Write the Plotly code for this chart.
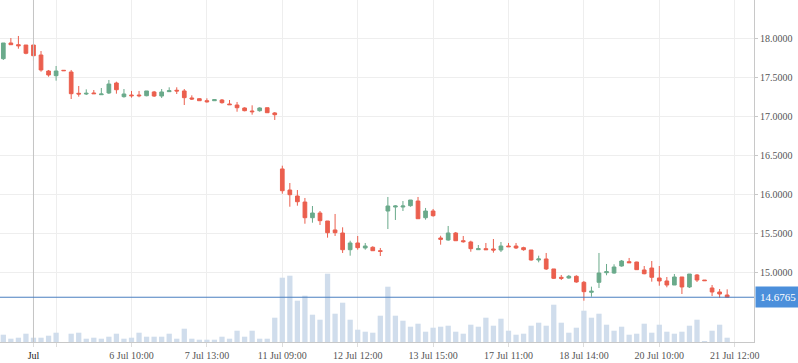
import plotly.graph_objects as go

opens = [17.735,17.936,17.914,17.910,17.910,17.782,17.577,17.517,17.586,17.564,
         17.291,17.282,17.295,17.273,17.295,17.423,17.248,17.269,17.269,17.260,
         17.308,17.256,17.312,17.330,17.321,17.231,17.222,17.196,17.196,17.205,
         17.154,17.141,17.103,17.064,17.068,17.106,17.039,16.321,16.051,15.974,
         15.897,15.696,15.756,15.654,15.539,15.500,15.286,15.372,15.308,15.317,
         15.273,15.782,15.833,15.833,15.850,15.910,15.696,15.782,15.436,15.410,
         15.500,15.401,15.385,15.286,15.299,15.295,15.282,15.333,15.333,15.312,
         15.282,15.154,15.167,15.039,14.932,14.923,14.945,14.868,14.740,14.868,
         14.991,14.987,15.077,15.132,15.128,15.026,15.051,14.923,14.885,14.833,
         14.936,14.808,14.962,14.897,14.795,14.744,14.705]

highs = [17.936,18.000,18.026,17.910,17.910,17.833,17.590,17.641,17.586,17.590,
         17.385,17.342,17.333,17.359,17.462,17.440,17.346,17.321,17.321,17.321,
         17.321,17.346,17.368,17.368,17.346,17.265,17.227,17.227,17.218,17.218,
         17.205,17.180,17.112,17.137,17.112,17.106,17.051,16.363,16.141,16.051,
         15.949,15.846,15.782,15.654,15.744,15.573,15.401,15.462,15.372,15.330,
         15.308,15.962,15.855,15.910,15.923,15.962,15.821,15.808,15.465,15.590,
         15.513,15.462,15.401,15.346,15.372,15.423,15.385,15.372,15.372,15.324,
         15.282,15.209,15.244,15.039,14.962,14.962,14.958,14.885,14.812,15.244,
         15.103,15.099,15.154,15.180,15.132,15.077,15.141,15.077,14.936,14.974,
         14.936,14.974,14.974,14.897,14.833,14.782,14.778]

lows = [17.718,17.914,17.863,17.791,17.705,17.568,17.504,17.453,17.581,17.218,
        17.248,17.269,17.286,17.273,17.282,17.286,17.235,17.235,17.240,17.253,
        17.244,17.231,17.308,17.282,17.141,17.205,17.196,17.171,17.196,17.158,
        17.145,17.055,17.060,17.017,17.055,17.042,16.949,16.004,15.837,15.850,
        15.619,15.632,15.603,15.440,15.462,15.244,15.209,15.286,15.286,15.273,
        15.205,15.551,15.667,15.782,15.837,15.683,15.671,15.709,15.350,15.401,
        15.401,15.376,15.260,15.286,15.286,15.248,15.256,15.324,15.295,15.273,
        15.145,15.124,15.026,14.910,14.897,14.914,14.863,14.632,14.683,14.795,
        14.958,14.978,15.068,15.119,15.026,14.971,14.876,14.824,14.804,14.833,
        14.718,14.795,14.872,14.889,14.692,14.667,14.667]

closes = [17.936,17.914,17.901,17.804,17.773,17.590,17.526,17.577,17.581,17.286,
          17.282,17.291,17.286,17.282,17.410,17.337,17.282,17.260,17.260,17.321,
          17.256,17.308,17.324,17.321,17.235,17.218,17.196,17.183,17.209,17.171,
          17.145,17.106,17.068,17.055,17.103,17.042,17.017,16.042,15.991,15.901,
          15.696,15.756,15.658,15.504,15.504,15.286,15.372,15.312,15.333,15.273,
          15.265,15.846,15.846,15.846,15.923,15.683,15.782,15.722,15.419,15.500,
          15.401,15.389,15.299,15.299,15.286,15.282,15.333,15.324,15.308,15.286,
          15.154,15.167,15.039,14.919,14.919,14.945,14.872,14.748,14.753,14.987,
          15.004,15.064,15.141,15.119,15.030,14.978,14.932,14.885,14.833,14.936,
          14.808,14.974,14.897,14.889,14.744,14.718,14.6765]

volumes = [73,33,43,83,43,43,63,93,0,83,
           93,33,43,33,53,83,33,43,93,53,
           53,53,83,33,133,33,23,23,23,53,
           33,113,53,113,33,33,243,643,663,413,
           463,273,223,683,283,393,223,123,103,93,
           263,553,263,213,153,183,103,143,153,163,
           103,83,173,153,243,163,233,113,73,83,
           163,193,163,373,193,93,143,313,243,283,
           173,113,153,73,83,183,93,173,103,83,
           103,163,223,5,113,173,43]

tick_idx = [4, 7, 17, 27, 37, 47, 57, 67, 77, 87, 97]
tick_labels = ["<span style='color:#222'>Jul</span>", "", "6 Jul 10:00", "7 Jul 13:00",
               "11 Jul 09:00", "12 Jul 12:00", "13 Jul 15:00", "17 Jul 11:00",
               "18 Jul 14:00", "20 Jul 10:00", "21 Jul 12:00"]
price_ticks = [15.0, 15.5, 16.0, 16.5, 17.0, 17.5, 18.0]
last_price = 14.6765
marker_idx = 4

x = list(range(len(opens)))

UP = "#6aaa8b"
DOWN = "#eb5f4e"
FONT = dict(family="Liberation Serif", size=10, color="#555555")

fig = go.Figure()
fig.add_trace(go.Bar(x=x, y=volumes, yaxis="y2", width=0.7,
                     marker=dict(color="#d0ddec", line_width=0), hoverinfo="skip"))
fig.add_trace(go.Candlestick(
    x=x, open=opens, high=highs, low=lows, close=closes,
    increasing=dict(line=dict(color=UP, width=1), fillcolor=UP),
    decreasing=dict(line=dict(color=DOWN, width=1), fillcolor=DOWN),
    whiskerwidth=0))

fig.add_shape(type="line", xref="x", yref="paper", x0=marker_idx, x1=marker_idx, y0=0, y1=1,
              line=dict(color="#c4c4c4", width=1))
fig.add_shape(type="line", xref="paper", yref="y", x0=0, x1=1, y0=last_price, y1=last_price,
              line=dict(color="#4a7fc0", width=1), layer="above")
fig.add_annotation(xref="paper", yref="y", x=1, y=last_price, xanchor="left", yanchor="middle",
                   text=f"{last_price:.4f}", showarrow=False, xshift=1,
                   bgcolor="#4b8fdb", borderpad=4,
                   font=dict(family="Liberation Serif", size=11, color="white"))

fig.update_layout(
    width=798, height=363,
    margin=dict(l=0, r=44, t=0, b=21),
    plot_bgcolor="white", paper_bgcolor="white",
    showlegend=False,
    xaxis=dict(range=[-0.44, 99.56], tickmode="array", tickvals=tick_idx, ticktext=tick_labels,
               showgrid=True, gridcolor="#eeeeee", gridwidth=1, zeroline=False,
               showline=True, linecolor="#c8c8c8", ticks="outside", ticklen=4,
               tickcolor="#dddddd", tickfont=FONT, rangeslider=dict(visible=False)),
    yaxis=dict(side="right", range=[14.1026, 18.4872], tickmode="array", tickvals=price_ticks,
               tickformat=".4f", showgrid=True, gridcolor="#eeeeee", zeroline=False,
               showline=True, linecolor="#c8c8c8", ticks="outside", ticklen=3,
               tickcolor="#c8c8c8", tickfont=FONT),
    yaxis2=dict(overlaying="y", range=[0, 3420], visible=False),
)

fig.write_html("out.html", config={"displayModeBar": False},
               post_script="document.body.style.margin='0';document.body.style.padding='0';")
